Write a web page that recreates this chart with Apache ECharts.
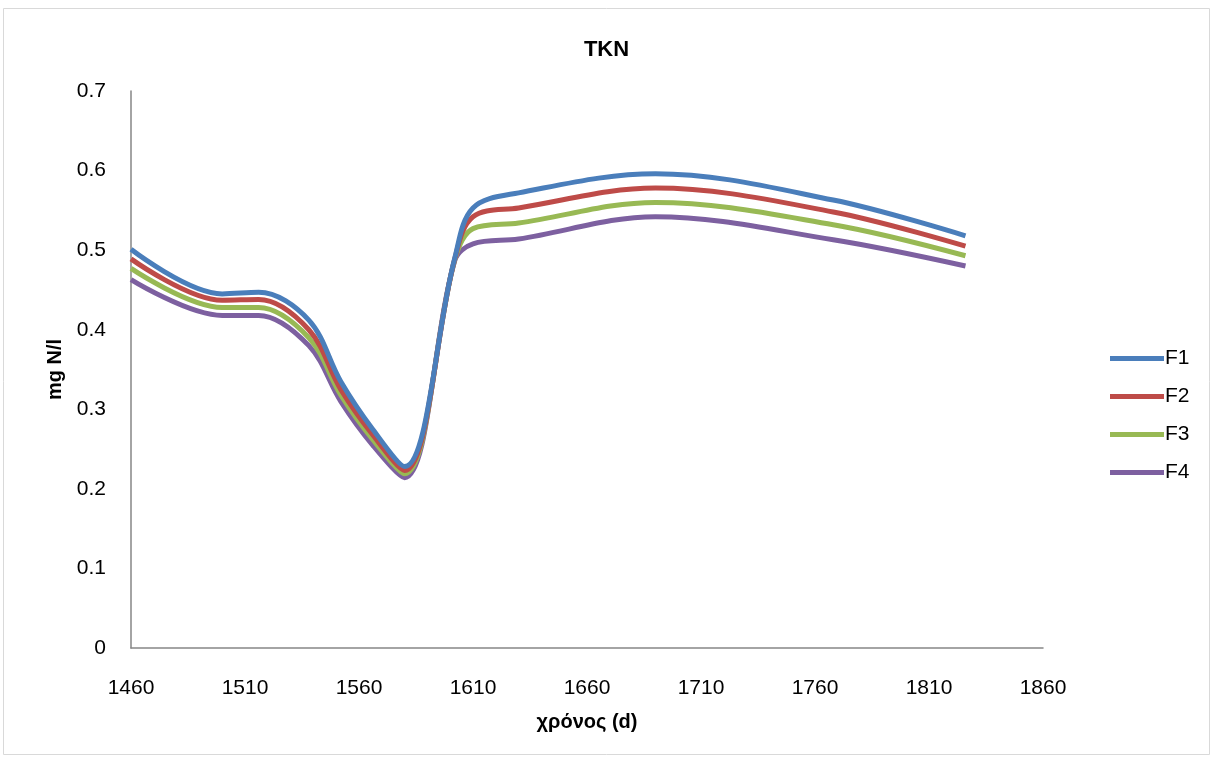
<!DOCTYPE html>
<html><head><meta charset="utf-8">
<script src="https://cdn.jsdelivr.net/npm/echarts@6/dist/echarts.min.js"></script>
<style>html,body{margin:0;padding:0;background:#fff}#c{width:1213px;height:758px}</style>
</head><body><div id="c"></div>
<script>
const days = [1460, 1500, 1516, 1538, 1552, 1566, 1580, 1602, 1610, 1630, 1690, 1768, 1826];
const F1 = [0.501, 0.445, 0.447, 0.412, 0.335, 0.275, 0.228, 0.490, 0.553, 0.572, 0.596, 0.563, 0.518];
const F2 = [0.489, 0.437, 0.438, 0.400, 0.325, 0.268, 0.223, 0.489, 0.542, 0.553, 0.578, 0.548, 0.505];
const F3 = [0.477, 0.428, 0.428, 0.390, 0.318, 0.262, 0.219, 0.488, 0.527, 0.534, 0.560, 0.532, 0.493];
const F4 = [0.463, 0.418, 0.418, 0.380, 0.310, 0.255, 0.214, 0.487, 0.508, 0.514, 0.542, 0.513, 0.480];
const names = ['F1', 'F2', 'F3', 'F4'];
const colors = ['#4A7EBB', '#BE4B48', '#98B954', '#7D60A0'];
const xTicks = [1460, 1510, 1560, 1610, 1660, 1710, 1760, 1810, 1860];
const yTicks = [0, 0.1, 0.2, 0.3, 0.4, 0.5, 0.6, 0.7];

const seriesData = [F1, F2, F3, F4];
const font = 'Liberation Sans, Arial, sans-serif';
const chart = echarts.init(document.getElementById('c'));
chart.setOption({
  animation: false,
  backgroundColor: '#fff',
  graphic: [{type: 'rect', shape: {x: 3.5, y: 8.5, width: 1206, height: 746}, style: {fill: 'none', stroke: '#d9d9d9', lineWidth: 1}}],
  title: {text: 'TKN', left: 'center', top: 34, textStyle: {fontFamily: font, fontSize: 22, fontWeight: 'bold', color: '#000'}},
  legend: {
    orient: 'vertical', left: 1105, top: 343, itemGap: 17, itemWidth: 54, itemHeight: 5, icon: 'rect',
    textStyle: {fontFamily: font, fontSize: 21, color: '#000', padding: [0, 0, 0, -4]},
    data: names
  },
  grid: {left: 131, right: 170, top: 91, bottom: 110},
  xAxis: {
    type: 'value', min: 1460, max: 1860, interval: 50,
    name: 'χρόνος (d)', nameLocation: 'middle', nameGap: 64,
    nameTextStyle: {fontFamily: font, fontSize: 20, fontWeight: 'bold', color: '#000'},
    axisLine: {lineStyle: {color: '#868686', width: 1.5}},
    axisTick: {show: false}, splitLine: {show: false},
    axisLabel: {fontFamily: font, fontSize: 21, color: '#000', margin: 30,
      formatter: v => xTicks.includes(v) ? String(v) : ''}
  },
  yAxis: {
    type: 'value', min: 0, max: 0.7, interval: 0.1,
    name: 'mg N/l', nameLocation: 'middle', nameGap: 66, nameRotate: 90,
    nameTextStyle: {fontFamily: font, fontSize: 20, fontWeight: 'bold', color: '#000'},
    axisLine: {show: true, lineStyle: {color: '#868686', width: 1.5}},
    axisTick: {show: false}, splitLine: {show: false},
    axisLabel: {fontFamily: font, fontSize: 21, color: '#000', margin: 25,
      formatter: v => { const t = yTicks.find(y => Math.abs(y - v) < 1e-9); return t === undefined ? '' : String(t); }}
  },
  series: seriesData.map((d, i) => ({
    name: names[i], type: 'line', smooth: 0.35, showSymbol: false,
    data: days.map((x, j) => [x, d[j]]),
    lineStyle: {color: colors[i], width: 5},
    itemStyle: {color: colors[i]}, z: 10 - i
  }))
});
</script></body></html>
